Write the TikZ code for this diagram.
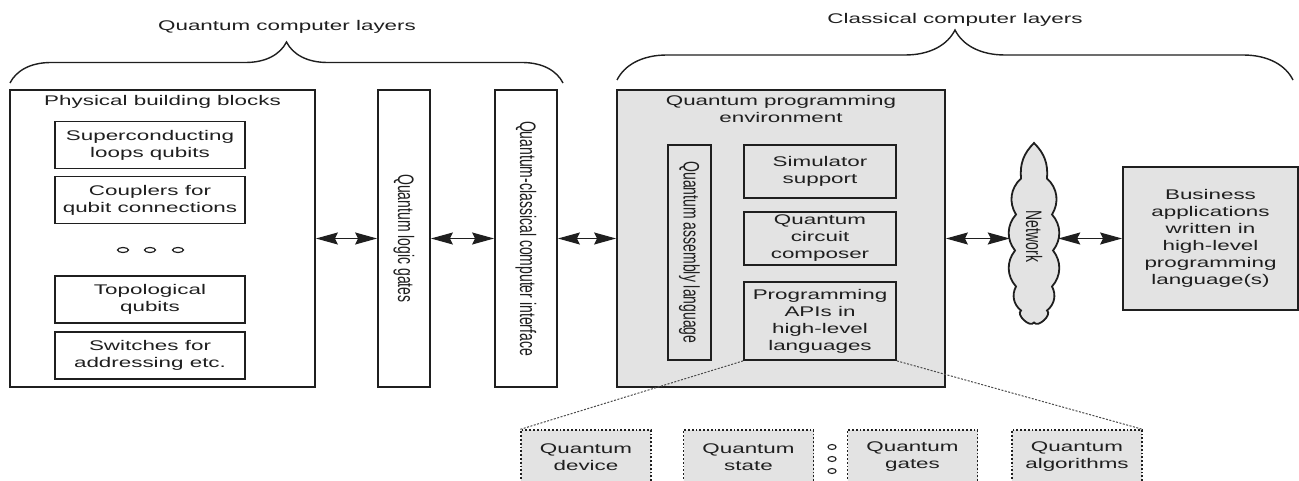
\documentclass[tikz,border=0pt]{standalone}
\usepackage{fontspec,graphicx}
\setmainfont{Liberation Sans}[FakeStretch=1.6]
\newfontfamily\rotfont{Liberation Sans}
\usetikzlibrary{arrows.meta, decorations.pathreplacing}
\definecolor{ink}{gray}{0.12}
\definecolor{panel}{gray}{0.89}
\newcommand{\sidetext}[1]{\rotatebox{-90}{\rotfont\scalebox{1}[1.6]{#1}}}
\tikzset{
  blk/.style={draw=ink, line width=1.8pt, text=ink, align=center, inner sep=2pt},
  pnl/.style={blk, fill=panel},
  stub/.style={pnl, dotted, line width=1.3pt, minimum width=130, minimum height=54},
  lnk/.style={<->, >={Stealth[length=22pt,width=12pt,inset=3pt]}, line width=1.4pt, draw=ink},
  zoomline/.style={draw=ink!80, line width=1pt, dash pattern=on 2pt off 1.5pt},
  layer/.style={decorate, decoration={brace, amplitude=#1}, line width=1.4pt, draw=ink},
  puffy/.style={draw=ink, line width=1.8pt, fill=panel},
}
\begin{document}
\begin{tikzpicture}[x=1pt, y=-1pt, every node/.style={font=\fontsize{14}{17}\selectfont}]
\useasboundingbox (0,0) rectangle (1299,481);
\clip (0,0) rectangle (1299,481);

\node[text=ink] (qlab) at (287,27) {Quantum computer layers};
\node[text=ink] (clab) at (955,20) {Classical computer layers};
\draw[layer=41pt] (10,83) -- (563,83);
\draw[layer=50pt] (617,80) -- (1293,80);

\node[blk, minimum width=305, minimum height=297] (phys) at (162.5,238.5) {};
\node[text=ink] (physt) at (162.5,102) {Physical building blocks};
\foreach \nm/\yc/\txt in {sc/145/{Superconducting\\loops qubits}, cp/200/{Couplers for\\qubit connections},
    tp/299.5/{Topological\\qubits}, sw/355.5/{Switches for\\addressing etc.}}
  \node[blk, minimum width=190, minimum height=47] (\nm) at (150,\yc) {\txt};
\foreach \dx in {123,150,178}
  \draw[ink, line width=1.2pt] (\dx,250) ellipse [x radius=5.5, y radius=2.5];

\node[blk, minimum width=52, minimum height=297] (logic) at (404,238.5) {\sidetext{Quantum logic gates}};
\node[blk, minimum width=62, minimum height=297] (iface) at (526,238.5) {\sidetext{Quantum-classical computer interface}};

\node[pnl, minimum width=328, minimum height=297] (env) at (781,238.5) {};
\node[text=ink, align=center] (envt) at (781,109) {Quantum programming\\environment};
\node[pnl, minimum width=43, minimum height=215] (asm) at (689.5,252.5) {\sidetext{Quantum assembly language}};
\node[pnl, minimum width=152, minimum height=53] (sim) at (820,171.5) {Simulator\\support};
\node[pnl, minimum width=152, minimum height=53] (comp) at (820,238.5) {Quantum\\circuit\\composer};
\node[pnl, minimum width=152, minimum height=78] (api) at (820,321) {Programming\\APIs in\\high-level\\languages};

\coordinate (netc) at (1034,236.5);
\begin{scope}[shift={(netc)}]
\draw[puffy] (0,-93.5) to[bend left=25] (13,-58) to[bend left=40] (18,-22) to[bend left=40] (19,14)
  to[bend left=40] (18,50) to[bend left=40] (13,74) to[bend left=100] (0,86) to[bend left=100] (-13,74)
  to[bend left=40] (-18,50) to[bend left=40] (-19,14) to[bend left=40] (-18,-22) to[bend left=40] (-13,-58)
  to[bend left=25] cycle;
\end{scope}
\node[text=ink, minimum width=48, minimum height=187, inner sep=0pt] (net) at (netc) {\sidetext{Network}};
\node[pnl, minimum width=175, minimum height=143] (biz) at (1210.5,238.5) {Business\\applications\\written in\\high-level\\programming\\language(s)};

\foreach \nm/\xc/\txt in {dev/586/{Quantum\\device}, st/748.5/{Quantum\\state}, gt/912.5/{Quantum\\gates}, alg/1077/{Quantum\\algorithms}}
  \node[stub] (\nm) at (\xc,457) {\txt};
\foreach \dy in {447,459,471}
  \draw[ink, line width=1.1pt] (832,\dy) ellipse [x radius=4, y radius=2.5];

\draw[lnk] (phys.east) -- (logic.west);
\draw[lnk] (logic.east) -- (iface.west);
\draw[lnk] (iface.east) -- (env.west);
\draw[lnk] (env.east) -- (net.west |- env.east);
\draw[lnk] (net.east |- biz.west) -- (biz.west);
\draw[zoomline] (api.south west) -- (dev.north west);
\draw[zoomline] (api.south east) -- (alg.north east);
\end{tikzpicture}
\end{document}
